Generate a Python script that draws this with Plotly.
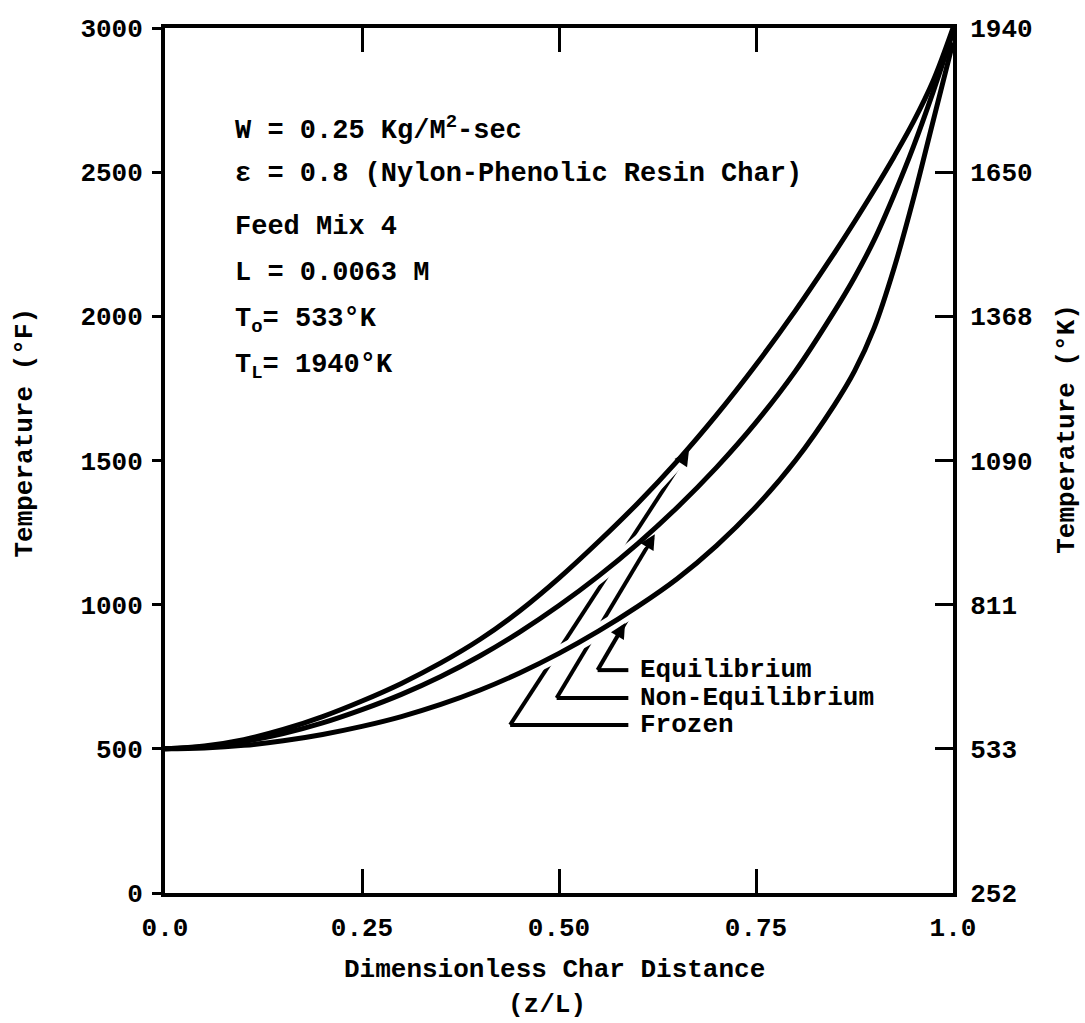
import numpy as np
import plotly.graph_objects as go

# ---------------- data ----------------
z_over_L = [0.0, 0.05, 0.10, 0.15, 0.20, 0.25, 0.30, 0.35, 0.40, 0.45, 0.50,
            0.55, 0.60, 0.65, 0.70, 0.75, 0.80, 0.85, 0.875, 0.90, 0.925,
            0.95, 0.975, 1.0]
frozen_F = [500, 510, 532, 567, 612, 666, 727, 798, 880, 978, 1092,
            1218, 1352, 1498, 1658, 1832, 2020, 2222, 2328, 2438, 2553,
            2676, 2818, 3000]
noneq_F = [500, 507, 525, 553, 590, 636, 689, 751, 823, 905, 997,
           1099, 1212, 1337, 1476, 1632, 1810, 2020, 2135, 2265, 2420,
           2590, 2780, 2985]
equil_F = [500, 503, 512, 528, 550, 578, 612, 654, 704, 763, 831,
           908, 994, 1090, 1205, 1340, 1500, 1695, 1810, 1960, 2165,
           2410, 2680, 2950]

x_tickvals = [0.0, 0.25, 0.5, 0.75, 1.0]
x_ticktext = ["0.0", "0.25", "0.50", "0.75", "1.0"]
yF_tickvals = [0, 500, 1000, 1500, 2000, 2500, 3000]
yK_ticktext = ["252", "533", "811", "1090", "1368", "1650", "1940"]

param_lines = [
    "W = 0.25 Kg/M<sup>2</sup>-sec",
    "\u03b5 = 0.8 (Nylon-Phenolic Resin Char)",
    "Feed Mix 4",
    "L = 0.0063 M",
    "T<sub>o</sub>= 533\u00b0K",
    "T<sub>L</sub>= 1940\u00b0K",
]
curve_labels = ["Equilibrium", "Non-Equilibrium", "Frozen"]

# ---------------- layout constants ----------------
FONT = "Liberation Mono"
W, H = 1085, 1023
ML, MR, MT, MB = 165, 132, 28, 130
PLOT_W = W - ML - MR
PLOT_H = H - MT - MB
X_RANGE = [0, 1]
Y_RANGE = [0, 3000]
PX_PER_X = PLOT_W / (X_RANGE[1] - X_RANGE[0])
PX_PER_Y = PLOT_H / (Y_RANGE[1] - Y_RANGE[0])

fig = go.Figure()

series = (frozen_F, noneq_F, equil_F)
# white halos first (they break the leader lines where they cross a curve)
for ys in series:
    fig.add_trace(go.Scatter(
        x=z_over_L, y=ys, mode="lines",
        line=dict(color="white", width=15, shape="spline", smoothing=1.0),
        showlegend=False, hoverinfo="skip"))
for ys in series:
    fig.add_trace(go.Scatter(
        x=z_over_L, y=ys, mode="lines",
        line=dict(color="black", width=5, shape="spline", smoothing=1.0),
        showlegend=False, hoverinfo="skip"))

# invisible trace to bind the right (°K) axis
fig.add_trace(go.Scatter(
    x=z_over_L, y=frozen_F, mode="lines", yaxis="y2",
    line=dict(color="rgba(0,0,0,0)", width=0),
    showlegend=False, hoverinfo="skip"))

tickfont = dict(family=FONT, size=26, color="black", weight="bold")

fig.update_layout(
    width=W, height=H,
    margin=dict(l=ML, r=MR, t=MT, b=MB),
    paper_bgcolor="white", plot_bgcolor="white",
    xaxis=dict(range=X_RANGE, tickvals=x_tickvals, ticktext=x_ticktext,
               ticks="inside", ticklen=24, tickwidth=3, tickcolor="black",
               showline=True, linewidth=4, linecolor="black", mirror="ticks",
               showgrid=False, zeroline=False, tickfont=tickfont,
               ticklabelstandoff=8),
    yaxis=dict(range=Y_RANGE, tickvals=yF_tickvals,
               ticks="outside", ticklen=9, tickwidth=3, tickcolor="black",
               showline=True, linewidth=4, linecolor="black", mirror=True,
               showgrid=False, zeroline=False, tickfont=tickfont,
               ticklabelstandoff=4),
    yaxis2=dict(range=Y_RANGE, tickvals=yF_tickvals, ticktext=yK_ticktext,
                overlaying="y", side="right",
                ticks="inside", ticklen=18, tickwidth=3, tickcolor="black",
                showline=True, linewidth=4, linecolor="black",
                showgrid=False, zeroline=False, tickfont=tickfont,
                ticklabelstandoff=8),
)

annotations = []
shapes = []

# parameter block
param_x = 0.086
param_y = [2650, 2495, 2310, 2150, 1985, 1825]
for txt, yy in zip(param_lines, param_y):
    annotations.append(dict(x=param_x, y=yy, xref="x", yref="y", text=txt,
                            showarrow=False, xanchor="left", yanchor="middle",
                            font=dict(family=FONT, size=27, color="black",
                                      weight="bold")))

# curve labels with L-shaped leaders
corner_x = [0.549, 0.497, 0.438]
corner_y = [773, 676, 583]
tip_x = [0.594, 0.632, 0.676]
tip_curves = [equil_F, noneq_F, frozen_F]
label_x = 0.600
for lab, cx, cy, tx, cur in zip(curve_labels, corner_x, corner_y, tip_x, tip_curves):
    ty = float(np.interp(tx, z_over_L, cur))
    # diagonal leader (below the curves so that their halos break it)
    shapes.append(dict(type="line", xref="x", yref="y", layer="below",
                       x0=cx, y0=cy, x1=tx, y1=ty,
                       line=dict(color="black", width=4)))
    # horizontal leader to the label
    shapes.append(dict(type="line", xref="x", yref="y", layer="below",
                       x0=cx, y0=cy, x1=label_x - 0.012, y1=cy,
                       line=dict(color="black", width=4)))
    # arrowhead just short of the curve
    dxp = (tx - cx) * PX_PER_X
    dyp = (ty - cy) * PX_PER_Y
    length = (dxp ** 2 + dyp ** 2) ** 0.5
    back = 16.0 / length
    hx = tx - (tx - cx) * back
    hy = ty - (ty - cy) * back
    short = 6.0 / length
    annotations.append(dict(x=hx, y=hy, xref="x", yref="y",
                            ax=hx - (tx - cx) * short, ay=hy - (ty - cy) * short,
                            axref="x", ayref="y", text="", showarrow=True,
                            arrowhead=2, arrowsize=1.0, arrowwidth=3,
                            arrowcolor="black", standoff=0))
    annotations.append(dict(x=label_x, y=cy, xref="x", yref="y", text=lab,
                            showarrow=False, xanchor="left", yanchor="middle",
                            font=dict(family=FONT, size=26, color="black",
                                      weight="bold")))

# axis titles
title_font = dict(family=FONT, size=26, color="black", weight="bold")
annotations.append(dict(x=0.494, y=-0.089, xref="paper", yref="paper",
                        text="Dimensionless Char Distance",
                        showarrow=False, xanchor="center", yanchor="middle",
                        font=title_font))
annotations.append(dict(x=0.485, y=-0.129, xref="paper", yref="paper",
                        text="(z/L)",
                        showarrow=False, xanchor="center", yanchor="middle",
                        font=title_font))
annotations.append(dict(x=-0.178, y=0.532, xref="paper", yref="paper",
                        text="Temperature (\u00b0F)", textangle=-90,
                        showarrow=False, xanchor="center", yanchor="middle",
                        font=title_font))
annotations.append(dict(x=1.145, y=0.537, xref="paper", yref="paper",
                        text="Temperature (\u00b0K)", textangle=-90,
                        showarrow=False, xanchor="center", yanchor="middle",
                        font=title_font))

fig.update_layout(annotations=annotations, shapes=shapes)
fig.write_html("out.html")
